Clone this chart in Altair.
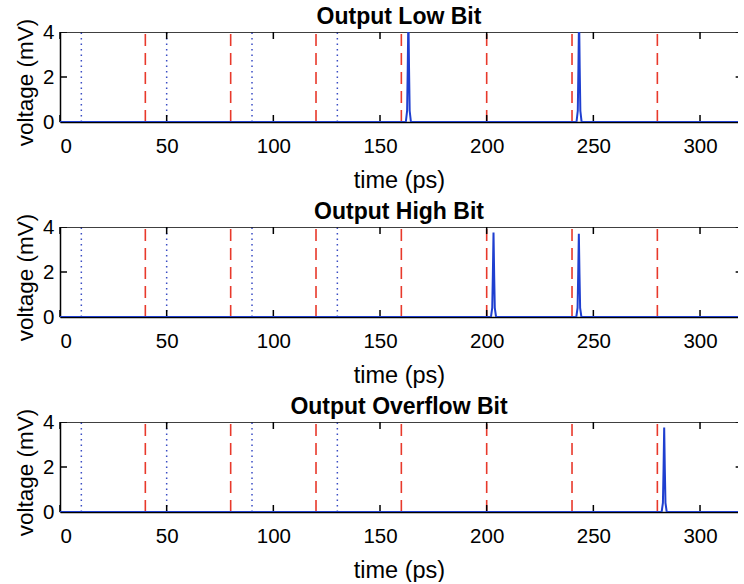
import altair as alt
import pandas as pd

# ---- data ----
red_times = [40, 80, 120, 160, 200, 240, 280]          # red dashed markers (ps)
blue_times = [10, 50, 90, 130]                         # blue dotted markers (ps)
x_ticks = [0, 50, 100, 150, 200, 250, 300]
y_ticks = [0, 2, 4]

panel_titles = ["Output Low Bit", "Output High Bit", "Output Overflow Bit"]

low_t = [0, 162.1, 162.7, 163.0, 163.3, 163.6, 163.9, 164.5,
         242.1, 242.7, 243.0, 243.3, 243.6, 243.9, 244.5, 320]
low_v = [0, 0, 0.5, 2.4, 4.8, 2.4, 0.5, 0,
         0, 0.5, 2.4, 4.8, 2.4, 0.5, 0, 0]

high_t = [0, 202.0, 202.6, 202.9, 203.2, 203.5, 203.8, 204.4,
          242.0, 242.6, 242.9, 243.2, 243.5, 243.8, 244.4, 320]
high_v = [0, 0, 0.4, 1.9, 3.75, 1.9, 0.4, 0,
          0, 0.4, 1.9, 3.7, 1.9, 0.4, 0, 0]

ovf_t = [0, 282.0, 282.6, 282.9, 283.2, 283.5, 283.8, 284.4, 320]
ovf_v = [0, 0, 0.4, 1.9, 3.75, 1.9, 0.4, 0, 0]

traces = [(low_t, low_v), (high_t, high_v), (ovf_t, ovf_v)]

X_MAX_VISIBLE = 317.8
X_FRAME = 320
Y_MAX = 4
TICK_LEN_X = 0.31   # inward tick length in mV units
TICK_LEN_Y = 3.3    # inward tick length in ps units

FONT = "Liberation Sans"
W, H = 678, 90

xscale = alt.Scale(domain=[0, X_MAX_VISIBLE], nice=False, zero=False)
yscale = alt.Scale(domain=[0, Y_MAX], nice=False)

red_df = pd.DataFrame({"t": red_times})
blue_df = pd.DataFrame({"t": blue_times})

xt_df = pd.DataFrame({"t": x_ticks})
bot_ticks = xt_df.assign(y0=0.0, y1=TICK_LEN_X)
top_ticks = xt_df.assign(y0=Y_MAX - TICK_LEN_X, y1=float(Y_MAX))
yt_df = pd.DataFrame({"v": y_ticks})
left_ticks = yt_df.assign(x0=0.0, x1=TICK_LEN_Y)
right_ticks = yt_df.assign(x0=X_FRAME - TICK_LEN_Y, x1=float(X_FRAME))
frame_df = pd.DataFrame({"x0": [0.0], "x1": [float(X_FRAME)], "y": [float(Y_MAX)]})

xaxis = alt.Axis(values=x_ticks, title="time (ps)", ticks=False, grid=False,
                 domain=True, domainColor="black", domainWidth=1.5,
                 labelPadding=14, titlePadding=12, labelFontSize=20.5,
                 titleFontSize=23.5, titleFontWeight="normal", labelColor="black",
                 titleColor="black")
yaxis = alt.Axis(values=y_ticks, title="voltage (mV)", ticks=False, grid=False,
                 domain=True, domainColor="black", domainWidth=1.5,
                 labelPadding=6, titlePadding=5, labelFontSize=20.5,
                 titleFontSize=22.5, titleFontWeight="normal", labelColor="black",
                 titleColor="black", titleY=50)


def panel(title, t, v):
    trace_df = pd.DataFrame({"t": t, "v": v})
    red = alt.Chart(red_df).mark_rule(color="#e8392b", strokeWidth=1.6,
                                      strokeDash=[12, 7]).encode(
        x=alt.X("t:Q", scale=xscale, axis=xaxis),
        y=alt.datum(0, scale=yscale, axis=yaxis), y2=alt.datum(Y_MAX))
    blue = alt.Chart(blue_df).mark_rule(color="#3a4cc4", strokeWidth=1.5,
                                        strokeDash=[1.5, 4]).encode(
        x="t:Q", y=alt.datum(0), y2=alt.datum(Y_MAX))
    frame = alt.Chart(frame_df).mark_rule(color="black", strokeWidth=1.5,
                                          clip=True).encode(
        x="x0:Q", x2="x1", y="y:Q")
    bt = alt.Chart(bot_ticks).mark_rule(color="black", strokeWidth=1.5).encode(
        x="t:Q", y="y0:Q", y2="y1")
    tt = alt.Chart(top_ticks).mark_rule(color="black", strokeWidth=1.5).encode(
        x="t:Q", y="y0:Q", y2="y1")
    lt = alt.Chart(left_ticks).mark_rule(color="black", strokeWidth=1.5,
                                         clip=True).encode(
        x="x0:Q", x2="x1", y="v:Q")
    rt = alt.Chart(right_ticks).mark_rule(color="black", strokeWidth=1.5,
                                          clip=True).encode(
        x="x0:Q", x2="x1", y="v:Q")
    line = alt.Chart(trace_df).mark_line(color="#1f3fd0", strokeWidth=2,
                                         clip=True).encode(
        x="t:Q", y="v:Q")
    return alt.layer(red, blue, frame, bt, tt, lt, rt, line).properties(
        width=W, height=H,
        title=alt.TitleParams(title, fontSize=23, fontWeight="bold",
                              font=FONT, color="black", offset=-11))


panels = [panel(panel_titles[i], *traces[i]) for i in range(3)]

chart = alt.vconcat(*panels, spacing=9).properties(
    padding={"left": 14, "top": 6, "right": 0, "bottom": 0}
).configure(font=FONT).configure_view(stroke=None)

chart.save("out.html", embed_options={"renderer": "svg", "actions": False})
